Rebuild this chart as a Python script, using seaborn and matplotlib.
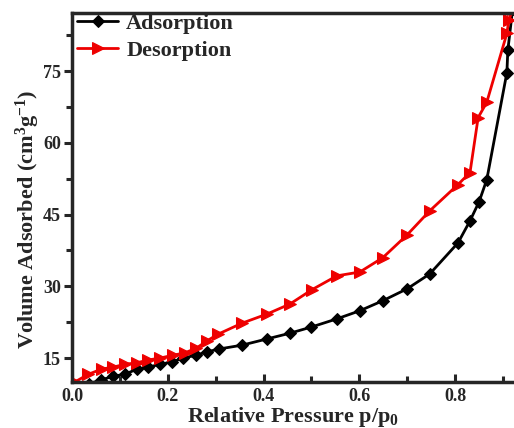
import numpy as np
import pandas as pd
import matplotlib
matplotlib.use("Agg")
import matplotlib.pyplot as plt
from matplotlib.ticker import MultipleLocator
import seaborn as sns

# adsorption branch (black diamonds)
ads_p = [0.035, 0.06, 0.086, 0.11, 0.136, 0.159, 0.184, 0.209, 0.232, 0.259, 0.282, 0.307,
         0.355, 0.407, 0.455, 0.50, 0.553, 0.601, 0.649, 0.70, 0.747, 0.806, 0.831, 0.85,
         0.866, 0.908, 0.91, 0.92]
ads_v = [9.6, 10.4, 11.2, 11.6, 12.7, 13.1, 13.7, 14.2, 15.0, 15.6, 16.3, 16.9,
         17.7, 19.0, 20.2, 21.5, 23.2, 24.9, 27.0, 29.5, 32.6, 39.1, 43.7, 47.7,
         52.3, 74.7, 79.4, 88.0]

# desorption branch (red triangles)
des_p = [0.92, 0.912, 0.908, 0.866, 0.848, 0.831, 0.806, 0.747, 0.70, 0.649, 0.601, 0.553,
         0.501, 0.455, 0.407, 0.355, 0.305, 0.282, 0.26, 0.236, 0.211, 0.184, 0.159, 0.135,
         0.11, 0.086, 0.062, 0.034, 0.006]
des_v = [88.0, 85.6, 82.9, 68.5, 65.3, 53.8, 51.3, 45.8, 40.8, 36.0, 33.0, 32.2,
         29.3, 26.3, 24.2, 22.3, 20.0, 18.6, 17.1, 16.1, 15.6, 15.0, 14.6, 14.0,
         13.7, 13.1, 12.7, 11.6, 10.0]

ads = pd.DataFrame({"p": ads_p, "v": ads_v})
des = pd.DataFrame({"p": des_p, "v": des_v})

sns.set_style("ticks")
plt.rcParams["font.family"] = ["Liberation Serif", "DejaVu Serif"]
plt.rcParams["font.weight"] = "bold"
plt.rcParams["mathtext.fontset"] = "custom"
plt.rcParams["mathtext.rm"] = "Liberation Serif:bold"
plt.rcParams["mathtext.it"] = "Liberation Serif:bold"
plt.rcParams["mathtext.bf"] = "Liberation Serif:bold"

fig = plt.figure(figsize=(5.14, 4.28), dpi=100)
ax = fig.add_axes([0.140, 0.1075, 0.862, 0.8625])

sns.lineplot(data=ads, x="p", y="v", sort=False, color="black", marker="D",
             markersize=6, markeredgecolor="black", linewidth=2, label="Adsorption", ax=ax)
sns.lineplot(data=des, x="p", y="v", sort=False, color="#ee0000", marker=">",
             markersize=8, markeredgecolor="#ee0000", linewidth=2, label="Desorption", ax=ax)

ax.set_xlim(0, 0.925)
ax.set_ylim(10, 87.2)
ax.xaxis.set_minor_locator(MultipleLocator(0.1))
ax.yaxis.set_major_locator(MultipleLocator(15))
ax.yaxis.set_minor_locator(MultipleLocator(7.5))
ax.set_xticks([0.0, 0.2, 0.4, 0.6, 0.8])
ax.set_xticklabels(["0.0", "0.2", "0.4", "0.6", "0.8"])

ax.tick_params(axis="x", which="major", direction="in", length=6, width=2.2, labelsize=13, pad=4)
ax.tick_params(axis="x", which="minor", direction="in", length=4, width=2.2)
ax.tick_params(axis="y", which="major", direction="out", length=6, width=2.2, labelsize=13, pad=2)
ax.tick_params(axis="y", which="minor", direction="out", length=4, width=2.2)
for lab in ax.get_xticklabels() + ax.get_yticklabels():
    lab.set_fontweight("bold")

for side in ["left", "bottom", "top"]:
    ax.spines[side].set_linewidth(2.5)
ax.spines["right"].set_visible(False)

ax.set_xlabel("Relative Pressure p/p$_0$", fontsize=16, fontweight="bold")
ax.set_ylabel("Volume Adsorbed (cm$^3$g$^{-1}$)", fontsize=16, fontweight="bold")
ax.xaxis.set_label_coords(0.5, -0.062)
ax.yaxis.set_label_coords(-0.068, 0.44)

leg = ax.legend(loc="upper left", bbox_to_anchor=(-0.033, 1.052), frameon=False,
                handlelength=1.85, handletextpad=0.35, labelspacing=0.28,
                prop={"family": "Liberation Serif", "weight": "bold", "size": 16})

fig.savefig("out.png", dpi=100)
